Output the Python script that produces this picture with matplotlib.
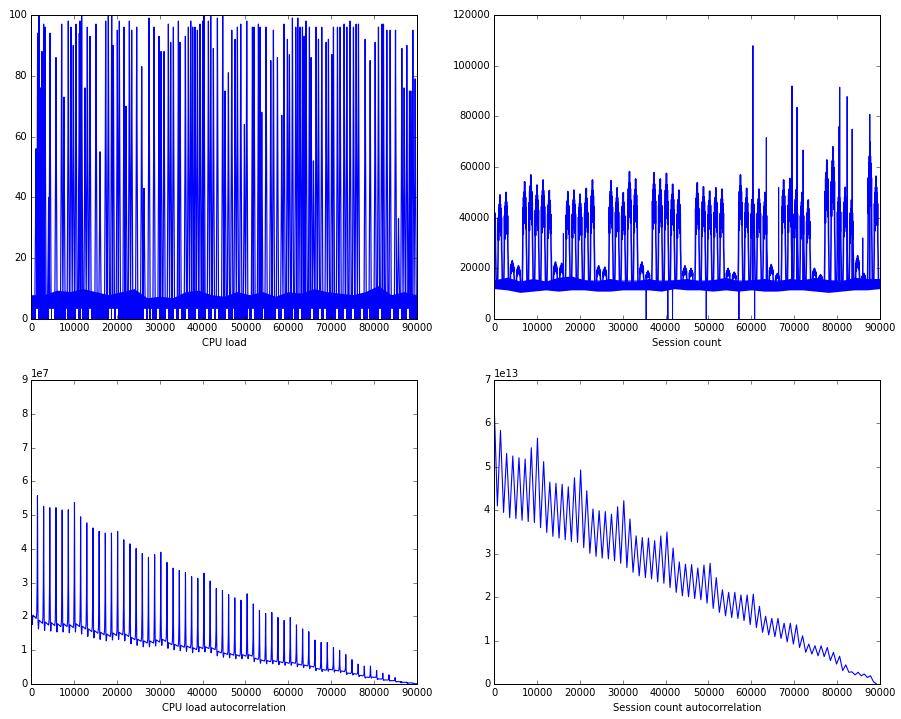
import matplotlib
matplotlib.use("Agg")
import matplotlib.pyplot as plt
import numpy as np

DAY = 1440  # one day of minutes = period of the daily pattern

# ---------------- CPU load (top left) ----------------
cpu_spike_x = [1090, 1480, 1790, 2180, 2490, 2880, 3190, 4050, 4360, 5760,
               7090, 7630, 8640, 9270, 9810, 10440, 11210, 11370, 11760, 12540,
               13080, 13710, 15110, 16040, 17370, 17990, 18770, 19160, 20090, 20560,
               21650, 22120, 22900, 23440, 24610, 25780, 26320, 27490, 28660, 29830,
               30300, 31000, 32010, 32550, 33180, 34350, 34740, 35980, 36680, 37230,
               37690, 38240, 38790, 39410, 40030, 40340, 41360, 41900, 42520, 43460,
               44700, 45250, 46030, 46810, 47590, 48130, 48910, 49770, 50310, 51640,
               52020, 53040, 53430, 53820, 54830, 55920, 56540, 57480, 58490, 59030,
               59810, 60280, 60980, 61760, 62230, 62770, 63320, 63710, 64170, 64950,
               65340, 65890, 66510, 67060, 67830, 68850, 69390, 70170, 70560, 71500,
               72120, 73050, 73680, 74450, 75230, 75860, 76400, 77960, 79130, 80300,
               81070, 81850, 82240, 83020, 83800, 85050, 85750, 86530, 87070, 87690,
               88320, 88630, 89100, 89640]
cpu_spike_y = [56, 94, 100, 76, 88, 97, 96, 40, 94, 86,
               97, 73, 98, 96, 90, 97, 94, 98, 100, 76,
               96, 93, 97, 55, 98, 100, 100, 90, 95, 98,
               96, 70, 98, 95, 96, 83, 43, 99, 96, 93,
               88, 88, 97, 91, 96, 98, 91, 93, 96, 98,
               96, 96, 95, 97, 98, 100, 98, 100, 89, 99,
               100, 75, 81, 95, 92, 96, 97, 64, 98, 96,
               96, 97, 96, 68, 96, 85, 95, 86, 67, 97,
               92, 87, 99, 96, 99, 96, 96, 93, 98, 96,
               86, 52, 96, 92, 96, 91, 92, 87, 96, 96,
               96, 97, 96, 98, 96, 97, 97, 92, 85, 91,
               96, 97, 97, 95, 95, 95, 33, 89, 76, 90,
               75, 75, 95, 79]
# shape of one burst (offset in minutes, fraction of the burst height)
burst_dx = [-260, -90, 0, 90, 260]
burst_frac = [0.0, 0.55, 1.0, 0.6, 0.0]
band_x = list(range(0, 90001, 3000))
cpu_band_hi = [8, 8, 9.5, 9, 10, 9, 8, 9, 10, 7,
               7.5, 7, 9, 9.5, 8, 7.5, 9, 8, 9, 7.5,
               9, 8.5, 10, 9, 8.5, 8, 9, 11, 8, 9, 8]
# places where the load did not fall to zero (white slits at the bottom)
cpu_gap_x = [1250, 4360, 4980, 8260, 10590, 11760, 13710, 18380, 19160, 19940,
             26550, 27340, 28110, 29670, 31620, 33570, 34740, 36290, 38630, 40960,
             42520, 43300, 45640, 47200, 50700, 51870, 54210, 57320, 58880, 61210,
             62770, 65500, 67450, 68610, 71340, 73290, 75230, 77180, 78740, 81460,
             84190, 86140, 88080]

# ---------------- Session count (top right) ----------------
sess_day_peak = [47000, 49000, 50000, 23000, 21000, 54200, 56900, 52900, 54900, 50700,
                 22500, 22000, 50300, 50900, 49300, 51600, 54900, 21000, 20500, 54600,
                 51800, 49900, 58200, 55300, 22500, 19000, 57800, 55300, 57500, 53200,
                 50900, 21000, 20000, 53800, 52200, 50500, 51800, 51300, 20000, 18500,
                 56900, 51600, 51000, 51300, 50000, 21500, 18000, 54900, 55500, 51000,
                 50000, 47000, 20000, 17500, 62800, 68000, 52000, 52000, 47000, 25000,
                 18000, 70000, 56400]
sess_spike_x = [16130, 60400, 63520, 66400, 69520, 70690, 72100, 80500, 80670,
                82390, 83560, 86050, 87690]
sess_spike_y = [33800, 107900, 71600, 52000, 92000, 83600, 66700, 76000, 91500,
                87800, 74900, 32000, 80800]
sess_drop_x = [35460, 40530, 41620, 49490, 57130, 60800]
sess_band_lo = [12000, 11500, 10500, 11000, 11500, 11000, 11500, 11500, 11000, 11000,
                11500, 11500, 11500, 11000, 12000, 11500, 11500, 11000, 11500, 11000,
                11500, 11000, 11000, 11500, 11500, 11000, 10500, 11000, 11500, 11500, 12000]
sess_band_hi = [15500, 16500, 15000, 16000, 15000, 16500, 17000, 15500, 15000, 16000,
                15000, 15000, 16000, 15000, 15500, 16000, 15000, 15500, 16500, 15000,
                15500, 16000, 15000, 16000, 15500, 16500, 15500, 15000, 16500, 16000, 16000]
# typical shape of one daily bump (offset in minutes, fraction of the peak)
bump_dx = [-560, -450, -380, -320, -260, -200, -140, -80, -20, 0,
           40, 100, 160, 220, 280, 340, 400, 460, 560]
bump_frac = [0.0, 0.3, 0.75, 0.5, 0.85, 0.6, 0.9, 0.65, 0.95, 1.0,
             0.7, 0.9, 0.6, 0.85, 0.55, 0.75, 0.4, 0.3, 0.0]

# ---------------- CPU load autocorrelation (units of 1e7) ----------------
acpu_start = 2.05
acpu_peak = [5.58, 5.26, 5.22, 5.22, 5.15, 5.16, 5.37, 4.95, 4.77, 4.62,
             4.52, 4.47, 4.47, 4.52, 4.27, 4.15, 4.01, 3.86, 3.75, 3.83,
             3.90, 3.60, 3.43, 3.36, 3.30, 3.18, 3.13, 3.28, 3.05, 2.83,
             2.77, 2.65, 2.55, 2.48, 2.67, 2.37, 2.18, 2.09, 2.12, 1.97,
             1.88, 1.97, 1.75, 1.63, 1.55, 1.30, 1.23, 1.23, 1.08, 1.00,
             0.87, 0.72, 0.59, 0.53, 0.53, 0.40, 0.32, 0.27, 0.19, 0.07,
             0.04, 0.01]
acpu_base = [2.0, 1.85, 1.8, 1.78, 1.75, 1.75, 1.72, 1.75, 1.68, 1.6,
             1.55, 1.5, 1.45, 1.48, 1.5, 1.45, 1.35, 1.3, 1.25, 1.25,
             1.28, 1.3, 1.2, 1.15, 1.12, 1.1, 1.05, 1.08, 1.08, 1.05,
             0.95, 0.9, 0.88, 0.85, 0.85, 0.85, 0.75, 0.7, 0.68, 0.68,
             0.65, 0.63, 0.63, 0.58, 0.55, 0.52, 0.45, 0.42, 0.43, 0.4,
             0.38, 0.32, 0.3, 0.25, 0.2, 0.2, 0.15, 0.12, 0.1, 0.07,
             0.05, 0.03, 0.01]
# shape between two daily peaks (offset in minutes, fraction of base level)
acpu_dx = [140, 230, 380, 700, 1150, 1280]
acpu_frac = [1.0, 0.88, 1.02, 1.0, 0.97, 1.06]
# shape of a peak (offset in minutes, fraction of the peak height)
apeak_dx = [-70, -25, 0, 25, 70]
apeak_frac = [0.55, 0.9, 1.0, 0.9, 0.55]

# ---------------- Session count autocorrelation (units of 1e13) ----------------
asess_start = 6.33
asess_trough = [4.10, 3.95, 3.83, 3.81, 3.77, 3.74, 3.72, 3.60, 3.49, 3.40,
                3.36, 3.32, 3.28, 3.26, 3.14, 3.01, 2.94, 2.90, 2.88, 2.84,
                2.78, 2.68, 2.57, 2.49, 2.45, 2.42, 2.35, 2.32, 2.22, 2.11,
                2.03, 2.01, 1.97, 1.94, 1.86, 1.74, 1.65, 1.57, 1.53, 1.51,
                1.46, 1.37, 1.30, 1.19, 1.13, 1.09, 1.05, 0.97, 0.92, 0.84,
                0.73, 0.69, 0.65, 0.63, 0.54, 0.46, 0.31, 0.27, 0.21, 0.19,
                0.15, 0.05]
asess_peak = [5.84, 5.31, 5.25, 5.21, 5.18, 5.44, 5.66, 5.12, 4.65, 4.62,
              4.60, 4.54, 4.75, 4.93, 4.45, 4.03, 3.99, 3.97, 3.91, 4.08,
              4.22, 3.80, 3.41, 3.37, 3.36, 3.30, 3.41, 3.50, 3.13, 2.81,
              2.76, 2.75, 2.67, 2.74, 2.78, 2.45, 2.17, 2.11, 2.11, 2.05,
              2.05, 2.07, 1.79, 1.56, 1.51, 1.51, 1.40, 1.40, 1.36, 1.11,
              0.92, 0.88, 0.88, 0.84, 0.73, 0.64, 0.44, 0.28, 0.27, 0.23,
              0.19, 0.0]


def shaped(centres, heights, base, dxs, fracs):
    px, py = [], []
    for c, h in zip(centres, heights):
        for dx, f in zip(dxs, fracs):
            if 0 <= c + dx <= 89999:
                px.append(c + dx)
                py.append(base + f * (h - base))
    return px, py


plt.style.use("classic")
plt.rcParams["font.size"] = 10
fig = plt.figure(figsize=(901 / 72, 719 / 72), dpi=72, facecolor="white")

W, H = 385.4 / 901, 304 / 719
ax1 = fig.add_axes([31.3 / 901, 1 - 319 / 719, W, H])
ax2 = fig.add_axes([494.3 / 901, 1 - 319 / 719, W, H])
ax3 = fig.add_axes([31.3 / 901, 1 - 684 / 719, W, H])
ax4 = fig.add_axes([494.3 / 901, 1 - 684 / 719, W, H])

# CPU load
ax1.fill_between(band_x, 3.5, cpu_band_hi, color="b", lw=0)
fine_x = np.arange(0, 90001, 50)
floor_on = np.ones(len(fine_x), dtype=bool)
for g in cpu_gap_x:
    floor_on &= np.abs(fine_x - g) > 180
ax1.fill_between(fine_x, 0, 3.6, where=floor_on, color="b", lw=0)
sx, sy = shaped(cpu_spike_x, cpu_spike_y, 5, burst_dx, burst_frac)
ax1.plot(sx, sy, color="b", lw=1.2)
ax1.set_xlim(0, 90000)
ax1.set_ylim(0, 100)
ax1.set_xlabel("CPU load")

# Session count
ax2.fill_between(band_x, sess_band_lo, sess_band_hi, color="b", lw=0)
centres = [1325 + DAY * (k - 1) for k in range(len(sess_day_peak))]
bx, by = shaped(centres, sess_day_peak, 13000, bump_dx, bump_frac)
ax2.plot(bx, by, color="b", lw=1.6)
sx, sy = shaped(sess_spike_x, sess_spike_y, 15000, [-40, 0, 40], [0, 1, 0])
ax2.plot(sx, sy, color="b", lw=1)
dx_, dy_ = shaped(sess_drop_x, [0] * len(sess_drop_x), 12000, [-30, 0, 30], [0, 1, 0])
ax2.plot(dx_, dy_, color="b", lw=1)
ax2.set_xlim(0, 90000)
ax2.set_ylim(0, 120000)
ax2.set_xlabel("Session count")

# CPU load autocorrelation
ax_, ay_ = [0], [acpu_start * 1e7]
for k, b in enumerate(acpu_base):
    s = DAY * k
    if k > 0:
        for dx, f in zip(apeak_dx, apeak_frac):
            ax_.append(s + dx)
            ay_.append(acpu_peak[k - 1] * f * 1e7)
    for dx, f in zip(acpu_dx, acpu_frac):
        ax_.append(s + dx)
        ay_.append(b * f * 1e7)
ax3.plot(ax_, ay_, color="b", lw=1.1)
ax3.set_xlim(0, 90000)
ax3.set_ylim(0, 9e7)
ax3.set_xlabel("CPU load autocorrelation")

# Session count autocorrelation
qx, qy = [0], [asess_start * 1e13]
for k, (t, p) in enumerate(zip(asess_trough, asess_peak)):
    qx += [DAY * k + DAY / 2, DAY * (k + 1)]
    qy += [t * 1e13, p * 1e13]
ax4.plot(qx, qy, color="b", lw=1.1)
ax4.set_xlim(0, 90000)
ax4.set_ylim(0, 7e13)
ax4.set_xlabel("Session count autocorrelation")

fig.savefig("out.png", dpi=72)
